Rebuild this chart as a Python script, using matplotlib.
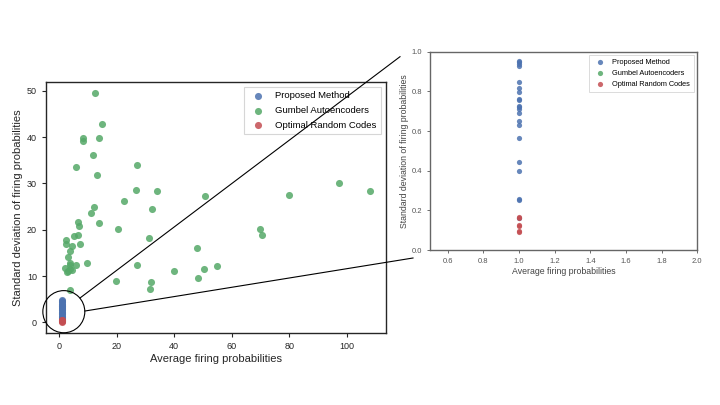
import matplotlib
matplotlib.use('Agg')
import matplotlib.pyplot as plt
from matplotlib.patches import Ellipse
from matplotlib.lines import Line2D

plt.rcParams['font.family'] = ['Liberation Sans', 'DejaVu Sans']

# 数据
labels = ['Proposed Method', 'Gumbel Autoencoders', 'Optimal Random Codes']
colors = ['#4C72B0', '#55A868', '#C44E52']

gumbel_mean = [12.3, 14.8, 8.1, 8.1, 14.0, 11.9, 5.7, 13.3, 27.0, 26.6, 34.0, 50.7,
               22.6, 32.4, 12.2, 10.9, 14.0, 6.7, 6.8, 20.6, 97.2, 108.1, 80.0, 70.0,
               70.4, 31.2, 2.2, 2.4, 6.4, 5.2, 7.2, 4.6, 3.9, 2.9, 48.0, 3.6, 3.8,
               6.0, 9.5, 26.9, 2.0, 2.9, 4.3, 2.6, 3.7, 55.0, 39.9, 50.5, 48.3, 19.8,
               31.9, 31.7, 3.9]
gumbel_std = [49.6, 42.9, 39.7, 39.1, 39.9, 36.1, 33.5, 31.9, 33.9, 28.5, 28.3, 27.3,
              26.1, 24.5, 24.8, 23.6, 21.4, 21.6, 20.9, 20.1, 30.1, 28.3, 27.5, 20.1,
              18.8, 18.3, 17.8, 16.9, 18.9, 18.7, 16.9, 16.4, 15.3, 14.1, 16.1, 12.9,
              12.4, 12.4, 12.9, 12.4, 11.7, 11.0, 11.3, 10.9, 11.6, 12.2, 11.1, 11.5,
              9.6, 8.9, 8.7, 7.3, 7.0]

proposed_std_main = [4.8, 4.6, 4.3, 4.0, 3.8, 3.6, 3.5, 3.3, 3.1, 2.8, 2.6, 2.3,
                     2.0, 1.7, 1.4, 1.2, 1.0, 0.8]
proposed_mean_main = [1.0] * len(proposed_std_main)
random_std_main = [0.5, 0.4, 0.3, 0.2, 0.1]
random_mean_main = [1.0] * len(random_std_main)

proposed_std_zoom = [0.955, 0.946, 0.936, 0.928, 0.849, 0.815, 0.795, 0.760, 0.757,
                     0.726, 0.719, 0.709, 0.689, 0.650, 0.630, 0.563, 0.444, 0.400,
                     0.257, 0.252, 0.160]
proposed_mean_zoom = [1.0] * len(proposed_std_zoom)
random_std_zoom = [0.168, 0.163, 0.124, 0.121, 0.096, 0.091]
random_mean_zoom = [1.0] * len(random_std_zoom)

fig = plt.figure(figsize=(7.2, 4.05), dpi=100)

# 主图
ax = fig.add_axes([0.0639, 0.1778, 0.4722, 0.6198])
ax.scatter(proposed_mean_main, proposed_std_main, s=26, c=colors[0], alpha=0.85,
           linewidths=0, label=labels[0], zorder=3)
ax.scatter(gumbel_mean, gumbel_std, s=26, c=colors[1], alpha=0.85,
           linewidths=0, label=labels[1], zorder=3)
ax.scatter(random_mean_main, random_std_main, s=26, c=colors[2], alpha=0.85,
           linewidths=0, label=labels[2], zorder=3)
ax.set_xlim(-4.6, 113.7)
ax.set_ylim(-2.3, 51.9)
ax.set_xticks([0, 20, 40, 60, 80, 100])
ax.set_yticks([0, 10, 20, 30, 40, 50])
ax.tick_params(labelsize=6.5, colors='#262626', length=3, width=0.8)
for sp in ax.spines.values():
    sp.set_color('#262626')
    sp.set_linewidth(1.0)
ax.set_xlabel('Average firing probabilities', fontsize=8, color='#262626', labelpad=2)
ax.set_ylabel('Standard deviation of firing probabilities', fontsize=8,
              color='#262626', labelpad=3)
leg = ax.legend(loc='upper right', fontsize=6.8, frameon=True, fancybox=False,
                borderpad=0.5, handletextpad=0.8, labelspacing=0.6)
leg.get_frame().set_edgecolor('#cccccc')
leg.get_frame().set_linewidth(0.8)

# 放大圈
circ = Ellipse((1.6, 2.3), 14.6, 9.1, fill=False, edgecolor='black',
               linewidth=0.8, clip_on=False, zorder=4)
ax.add_patch(circ)

# 连接线
fig.add_artist(Line2D([80 / 720, 400 / 720], [1 - 298 / 405, 1 - 56.7 / 405],
                      transform=fig.transFigure, color='black', linewidth=0.8))
fig.add_artist(Line2D([85 / 720, 413 / 720], [1 - 311 / 405, 1 - 258 / 405],
                      transform=fig.transFigure, color='black', linewidth=0.8))

# 放大图
ax2 = fig.add_axes([0.5972, 0.3827, 0.3713, 0.4896])
ax2.scatter(proposed_mean_zoom, proposed_std_zoom, s=14, c=colors[0], alpha=0.85,
            linewidths=0, label=labels[0], zorder=3)
ax2.scatter([], [], s=14, c=colors[1], alpha=0.85, linewidths=0, label=labels[1])
ax2.scatter(random_mean_zoom, random_std_zoom, s=14, c=colors[2], alpha=0.85,
            linewidths=0, label=labels[2], zorder=3)
ax2.set_xlim(0.5, 2.0)
ax2.set_ylim(0.0, 1.0)
ax2.set_xticks([0.6, 0.8, 1.0, 1.2, 1.4, 1.6, 1.8, 2.0])
ax2.set_yticks([0.0, 0.2, 0.4, 0.6, 0.8, 1.0])
ax2.tick_params(labelsize=5.5, colors='#555555', length=2, width=0.6)
for sp in ax2.spines.values():
    sp.set_color('#666666')
    sp.set_linewidth(1.0)
ax2.set_xlabel('Average firing probabilities', fontsize=6.3, color='#444444', labelpad=2)
ax2.set_ylabel('Standard deviation of firing probabilities', fontsize=6.3,
               color='#444444', labelpad=2)
leg2 = ax2.legend(loc='upper right', fontsize=5.3, frameon=True, fancybox=False,
                  borderpad=0.5, handletextpad=0.6, labelspacing=0.5)
leg2.get_frame().set_edgecolor('#cccccc')
leg2.get_frame().set_linewidth(0.6)

plt.savefig('out.png', dpi=100)
